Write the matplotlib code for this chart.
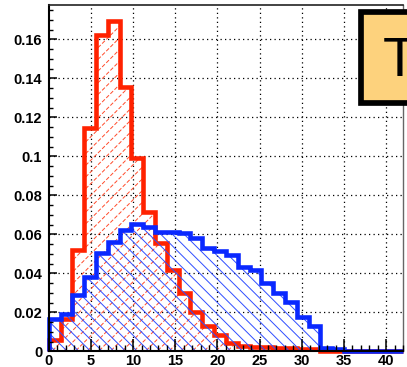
import numpy as np
import matplotlib
matplotlib.use("Agg")
import matplotlib.pyplot as plt
from matplotlib.patches import PathPatch, Rectangle
from matplotlib.path import Path
from matplotlib.collections import LineCollection
from matplotlib.ticker import MultipleLocator

# 30 bins of width 1.4 over [0, 42]
bin_edges = np.linspace(0.0, 42.0, 31)

red_values = [0.0058, 0.0164, 0.0520, 0.1144, 0.1622, 0.1695, 0.1354, 0.0990,
              0.0716, 0.0554, 0.0417, 0.0297, 0.0200, 0.0132, 0.0084, 0.0043,
              0.0027, 0.0024, 0.0021, 0.0019, 0.0016, 0.0013, 0.0010, 0.0004,
              0.0, 0.0, 0.0, 0.0, 0.0, 0.0]

blue_values = [0.0164, 0.0191, 0.0289, 0.0380, 0.0503, 0.0562, 0.0622, 0.0652,
               0.0635, 0.0613, 0.0612, 0.0607, 0.0580, 0.0528, 0.0514, 0.0494,
               0.0431, 0.0417, 0.0349, 0.0297, 0.0254, 0.0177, 0.0130, 0.0015,
               0.0012, 0.0, 0.0, 0.0, 0.0, 0.0]

x_ticks = [0, 5, 10, 15, 20, 25, 30, 35, 40]
x_tick_labels = ["0", "5", "10", "15", "20", "25", "30", "35", "40"]
y_ticks = [0.0, 0.02, 0.04, 0.06, 0.08, 0.10, 0.12, 0.14, 0.16]
y_tick_labels = ["0", "0.02", "0.04", "0.06", "0.08", "0.1", "0.12", "0.14", "0.16"]
title_text = "T"

RED = "#ff2200"
BLUE = "#0a28ff"

plt.rcParams["font.family"] = ["Liberation Sans", "DejaVu Sans"]

W, H = 407, 367
fig = plt.figure(figsize=(W / 100, H / 100), dpi=100)
fig.patch.set_facecolor("white")
ax = fig.add_axes([48.8 / W, (H - 351.3) / H, (403 - 48.8) / W, (351.3 - 5) / H])


def step_path(values):
    verts = [(bin_edges[0], 0.0)]
    for i, v in enumerate(values):
        verts += [(bin_edges[i], v), (bin_edges[i + 1], v)]
    verts.append((bin_edges[-1], 0.0))
    verts.append((bin_edges[0], 0.0))
    return Path(verts, closed=True)


def hatch(values, direction, color, lw, ls, spacing_px, zorder):
    region = PathPatch(step_path(values), transform=ax.transData,
                       facecolor="none", edgecolor="none")
    ax.add_patch(region)
    s = spacing_px / fig.dpi
    w, h = fig.get_size_inches()
    segs = []
    c = -h - 1
    while c < w + h + 1:
        if direction > 0:
            segs.append([(c, 0), (c + h, h)])
        else:
            segs.append([(c, 0), (c - h, h)])
        c += s
    lc = LineCollection(segs, colors=color, linewidths=lw, linestyles=ls,
                        transform=fig.dpi_scale_trans, zorder=zorder)
    ax.add_collection(lc, autolim=False)
    lc.set_clip_path(region)


# dotted grid at the major ticks
for xv in x_ticks[1:]:
    ax.axvline(xv, color="black", lw=0.9, ls=(0, (1, 2.6)), zorder=1)
for yv in y_ticks[1:]:
    ax.axhline(yv, color="black", lw=0.9, ls=(0, (1, 2.6)), zorder=1)

# red histogram: hatched fill and thick outline
hatch(red_values, +1, "#ff4a2a", 0.7, (0, (4, 2)), 11.7, 2.1)
ax.stairs(red_values, bin_edges, baseline=0, fill=False, color=RED,
          lw=3.3, zorder=2.2, clip_on=False)

# blue histogram drawn on top
hatch(blue_values, -1, "#2f4dff", 0.7, "solid", 11.7, 2.3)
ax.stairs(blue_values, bin_edges, baseline=0, fill=False, color=BLUE,
          lw=3.3, zorder=2.4, clip_on=False)

ax.set_xlim(0, 42)
ax.set_ylim(0, 0.1776)

ax.set_xticks(x_ticks)
ax.set_xticklabels(x_tick_labels, fontsize=10.5, fontweight="bold")
ax.set_yticks(y_ticks)
ax.set_yticklabels(y_tick_labels, fontsize=10.5, fontweight="bold")
ax.xaxis.set_minor_locator(MultipleLocator(1))
ax.yaxis.set_minor_locator(MultipleLocator(0.005))
ax.tick_params(axis="x", which="major", direction="in", length=8.3, width=1.1, pad=2.2)
ax.tick_params(axis="x", which="minor", direction="in", length=4.1, width=1.0)
ax.tick_params(axis="y", which="major", direction="in", length=5.4, width=1.1, pad=4.8)
ax.tick_params(axis="y", which="minor", direction="in", length=2.9, width=1.0)
ax.tick_params(top=False, right=False, which="both")
ax.xaxis.set_zorder(3)
ax.yaxis.set_zorder(3)

for side in ("left", "bottom"):
    ax.spines[side].set_linewidth(1.5)
    ax.spines[side].set_color("black")
ax.spines["top"].set_linewidth(1.2)
ax.spines["top"].set_color("#222222")
ax.spines["right"].set_linewidth(1.0)
ax.spines["right"].set_color("#666666")

# title pave in the upper right corner
box = Rectangle((361.2 / W, (H - 102.5) / H), (440 - 361.2) / W, 90 / H,
                transform=fig.transFigure, facecolor="#fdd27d",
                edgecolor="black", lw=4.1, zorder=5, clip_on=False)
fig.add_artist(box)
fig.text(383 / W, (H - 76) / H, title_text, fontsize=40, ha="left",
         va="baseline", color="black", zorder=6)

fig.savefig("out.png", dpi=100)
